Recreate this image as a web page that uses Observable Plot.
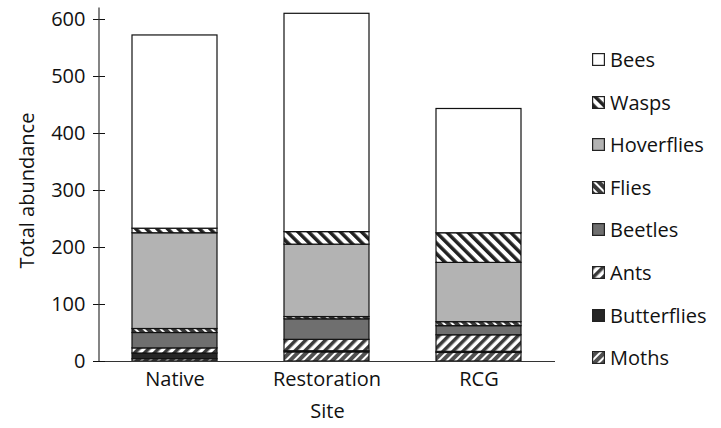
<!DOCTYPE html>
<html>
<head>
<meta charset="utf-8">
<script src="https://cdn.jsdelivr.net/npm/d3@7"></script>
<script src="https://cdn.jsdelivr.net/npm/@observablehq/plot@0.6"></script>
<style>
  html, body { margin: 0; padding: 0; background: #fff; }
  #wrap { position: relative; width: 721px; height: 428px; font-family: "Open Sans", sans-serif; }
  #legend { position: absolute; left: 592px; top: 0; }
  .lg { position: absolute; left: 0; display: flex; align-items: center; white-space: nowrap; font-size: 20px; color: #111; }
  .lg svg { margin-right: 5px; }
</style>
</head>
<body>
<div id="wrap"><div id="legend"></div></div>
<script>
const sites = ["Native", "Restoration", "RCG"];
const categories = ["Moths", "Butterflies", "Ants", "Beetles", "Flies", "Hoverflies", "Wasps", "Bees"];
const moths       = [4, 16, 15];
const butterflies = [10, 2, 2];
const ants        = [9, 20, 29];
const beetles     = [27, 36, 16];
const flies       = [7, 4, 7];
const hoverflies  = [168, 127, 104];
const wasps       = [8, 22, 52];
const bees        = [339, 383, 218];
const yTicks = [0, 100, 200, 300, 400, 500, 600];

const series = [moths, butterflies, ants, beetles, flies, hoverflies, wasps, bees];
const data = [];
categories.forEach((c, i) => sites.forEach((s, j) => data.push({site: s, cat: c, value: series[i][j]})));

const patIds = categories.map(c => "pat-" + c.toLowerCase());
const fills = patIds.map(id => `url(#${id})`);

const W = 721, H = 428;
const plot = Plot.plot({
  width: W, height: H,
  marginLeft: 99, marginRight: 166, marginTop: 19, marginBottom: 67,
  style: {fontFamily: "Open Sans, sans-serif", fontSize: "20px", color: "#111", background: "white"},
  x: {domain: sites, paddingInner: 0.44, paddingOuter: 0.22, label: null},
  y: {domain: [0, 600], label: null},
  color: {type: "ordinal", domain: categories, range: fills},
  marks: [
    Plot.barY(data, {x: "site", y: "value", fill: "cat", stroke: "#111", strokeWidth: 1.2}),
    Plot.ruleY([0], {stroke: "#333", strokeWidth: 1.2}),
    Plot.axisY({ticks: yTicks, tickSize: 6, tickPadding: 8, fontSize: 20}),
    Plot.axisY({ticks: yTicks, tickSize: -6, tickFormat: () => ""}),
    Plot.axisX({tickSize: 0, tickPadding: 10, fontSize: 20}),
    Plot.text(["Site"], {frameAnchor: "bottom", dy: 56, fontSize: 20}),
    Plot.text(["Total abundance"], {frameAnchor: "left", textAnchor: "middle", dx: -72, rotate: -90, fontSize: 20})
  ]
});

const svg = d3.select(plot);
const defs = svg.insert("defs", ":first-child");
function stripes(id, angle, period, bg, fg, w) {
  const p = defs.append("pattern").attr("id", id).attr("patternUnits", "userSpaceOnUse")
    .attr("width", period).attr("height", period).attr("patternTransform", `rotate(${angle})`);
  p.append("rect").attr("width", period).attr("height", period).attr("fill", bg);
  p.append("rect").attr("width", w).attr("height", period).attr("fill", fg);
}
function solid(id, color) {
  const p = defs.append("pattern").attr("id", id).attr("patternUnits", "userSpaceOnUse").attr("width", 4).attr("height", 4);
  p.append("rect").attr("width", 4).attr("height", 4).attr("fill", color);
}
stripes("pat-moths", 45, 6, "#505050", "#ffffff", 2);
solid("pat-butterflies", "#262626");
stripes("pat-ants", 45, 7, "#ffffff", "#3a3a3a", 3.5);
solid("pat-beetles", "#6f6f6f");
stripes("pat-flies", -45, 6, "#3a3a3a", "#ffffff", 2);
solid("pat-hoverflies", "#b3b3b3");
stripes("pat-wasps", -45, 7.5, "#ffffff", "#222222", 3.5);
solid("pat-bees", "#ffffff");

// vertical axis line from the library's y scale
const ys = plot.scale("y"), xs = plot.scale("x");
const x0 = xs.range[0];
svg.append("line").attr("x1", x0).attr("x2", x0)
  .attr("y1", ys.apply(0)).attr("y2", ys.apply(620))
  .attr("stroke", "#333").attr("stroke-width", 1.2);

document.getElementById("wrap").prepend(plot);
plot.style.position = "absolute"; plot.style.left = "0"; plot.style.top = "0";

// legend
const legend = d3.select("#legend");
const legendOrder = categories.slice().reverse();
legendOrder.forEach((c, i) => {
  const row = legend.append("div").attr("class", "lg").style("top", (46 + i * 42.6) + "px");
  const s = row.append("svg").attr("width", 13).attr("height", 13);
  const idx = categories.indexOf(c);
  s.append("rect").attr("x", 0.6).attr("y", 0.6).attr("width", 11.8).attr("height", 11.8)
    .attr("fill", fills[idx]).attr("stroke", "#222").attr("stroke-width", 1.2);
  row.append("span").text(c);
});
</script>
</body>
</html>
